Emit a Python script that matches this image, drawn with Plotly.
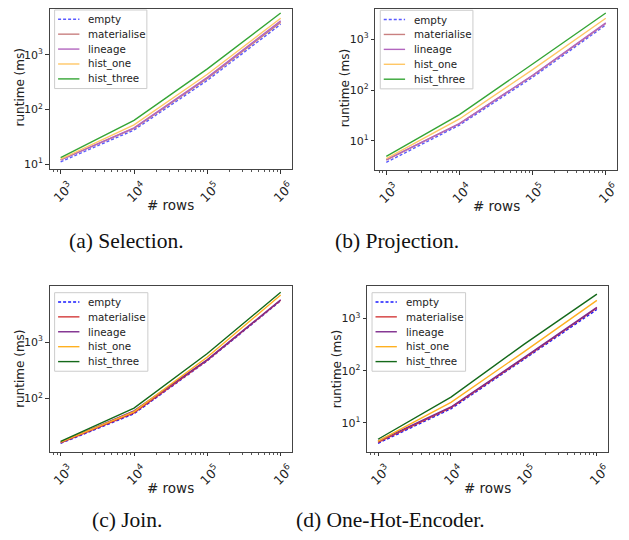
import plotly.graph_objects as go

rows = [1e3, 1e4, 1e5, 1e6]
series_names = ["empty", "materialise", "lineage", "hist_one", "hist_three"]

# (a) Selection
sel_empty = [11, 42, 340, 3600]
sel_materialise = [12, 45, 370, 3900]
sel_lineage = [12, 46, 385, 4150]
sel_hist_one = [12.3, 52, 440, 4650]
sel_hist_three = [13.2, 63, 550, 5800]

# (b) Projection
proj_empty = [3.8, 20.5, 178, 1900]
proj_materialise = [4.2, 22, 192, 2030]
proj_lineage = [4.3, 22, 195, 2080]
proj_hist_one = [4.5, 27, 252, 2570]
proj_hist_three = [5.0, 33, 325, 3250]

# (c) Join
join_empty = [16.2, 54, 470, 5400]
join_materialise = [16.5, 56, 480, 5500]
join_lineage = [17, 61, 490, 5600]
join_hist_one = [17, 59, 545, 6800]
join_hist_three = [17.6, 68, 630, 7600]

# (d) One-Hot-Encoder
ohe_empty = [4.0, 18.5, 165, 1500]
ohe_materialise = [4.2, 19.5, 172, 1600]
ohe_lineage = [4.4, 20, 178, 1650]
ohe_hist_one = [4.4, 24.5, 230, 2250]
ohe_hist_three = [4.8, 31, 320, 2950]

captions = ["(a) Selection.", "(b) Projection.", "(c) Join.", "(d) One-Hot-Encoder."]
x_tickvals = [1e3, 1e4, 1e5, 1e6]
x_ticktext = ["10<sup>3</sup>", "10<sup>4</sup>", "10<sup>5</sup>", "10<sup>6</sup>"]

colors_light = ["#5a5aff", "#c98080", "#b266bf", "#ffc766", "#35a535"]
colors_dark = ["#1a1aff", "#d43a3a", "#7d2a8c", "#ffb020", "#14691a"]

# page is 629x540; the plot div sits 8px in from the page corner (default body margin)
OFF = 8
W, H = 629 - OFF, 540 - OFF
def px_x(p):
    return (p - OFF) / W
def px_y(p):
    return min(1.0, 1 - (p - OFF) / H)

panels = [
    dict(data=[sel_empty, sel_materialise, sel_lineage, sel_hist_one, sel_hist_three],
         colors=colors_light, frame=(50, 294, 5, 169), yrange=[0.909, 3.89],
         ytick=[10, 100, 1000], legend=(55, 9, 93), cap=(127.5, 241.7), ylab=20),
    dict(data=[proj_empty, proj_materialise, proj_lineage, proj_hist_one, proj_hist_three],
         colors=colors_light, frame=(378.3, 621.7, 5, 170), yrange=[0.428, 3.65],
         ytick=[10, 100, 1000], legend=(383.3, 9.3, 93.4), cap=(400, 241.7), ylab=348),
    dict(data=[join_empty, join_materialise, join_lineage, join_hist_one, join_hist_three],
         colors=colors_dark, frame=(50, 294, 286.7, 453.3), yrange=[1.06, 3.99],
         ytick=[100, 1000], legend=(55, 293.3, 94), cap=(128, 521.7), ylab=20),
    dict(data=[ohe_empty, ohe_materialise, ohe_lineage, ohe_hist_one, ohe_hist_three],
         colors=colors_dark, frame=(370, 612.7, 286.7, 453.3), yrange=[0.44, 3.625],
         ytick=[10, 100, 1000], legend=(375, 293.3, 94.3), cap=(394, 521.7), ylab=340),
]

fig = go.Figure()
annotations = []
shapes = []
layout = {}
xtick_font = dict(family="DejaVu Sans", size=12.5, color="#222")
ytick_font = dict(family="DejaVu Sans", size=11, color="#222")
for i, p in enumerate(panels):
    k = "" if i == 0 else str(i + 1)
    for j, name in enumerate(series_names):
        fig.add_trace(go.Scatter(
            x=rows, y=p["data"][j], mode="lines", name=name, showlegend=False,
            line=dict(color=p["colors"][j], width=1.4,
                      dash="3px,2px" if name == "empty" else "solid"),
            xaxis="x" + k, yaxis="y" + k,
        ))
    l, r, t, b = p["frame"]
    y0, y1 = p["yrange"]
    # if the frame top falls above the visible plot div, trim the range to keep the scale
    t_vis = max(t, OFF)
    y1 = y1 - (t_vis - t) * (y1 - y0) / (b - t)
    layout["xaxis" + k] = dict(
        type="log", domain=[px_x(l), px_x(r)], range=[2.85, 6.15],
        anchor="y" + k, tickvals=x_tickvals, ticktext=x_ticktext, tickangle=-45,
        ticklabelshift=9, ticklabelstandoff=1,
        ticks="outside", ticklen=3.5, tickcolor="#333", showgrid=False,
        showline=True, linecolor="#444", linewidth=1, mirror=True, zeroline=False,
        tickfont=xtick_font,
        minor=dict(ticks="outside", ticklen=2, tickcolor="#555", dtick="D1", showgrid=False),
    )
    layout["yaxis" + k] = dict(
        type="log", domain=[px_y(b), px_y(t_vis)], range=[y0, y1],
        anchor="x" + k, tickvals=p["ytick"],
        ticktext=["10<sup>%d</sup>" % (len(str(int(v))) - 1) for v in p["ytick"]],
        ticks="outside", ticklen=3.5, tickcolor="#333", showgrid=False,
        showline=True, linecolor="#444", linewidth=1, mirror=True, zeroline=False,
        tickfont=ytick_font,
    )
    # legend box (drawn as decoration in pixel space)
    lx, ly, lw = p["legend"]
    shapes.append(dict(
        type="rect", xref="paper", yref="paper", layer="above",
        x0=px_x(lx), x1=px_x(lx + lw), y0=px_y(ly), y1=px_y(ly + 79),
        line=dict(color="#cccccc", width=1), fillcolor="rgba(255,255,255,0.85)",
    ))
    for j, name in enumerate(series_names):
        yy = ly + 9.3 + 15 * j
        shapes.append(dict(
            type="line", xref="paper", yref="paper", layer="above",
            x0=px_x(lx + 3.5), x1=px_x(lx + 25), y0=px_y(yy), y1=px_y(yy),
            line=dict(color=p["colors"][j], width=1.4,
                      dash="3px,2px" if name == "empty" else "solid"),
        ))
        annotations.append(dict(
            x=px_x(lx + 32), y=px_y(yy), xref="paper", yref="paper",
            text=name, showarrow=False, xanchor="left", yanchor="middle",
            font=dict(family="DejaVu Sans", size=10.3, color="#222"),
        ))
    annotations.append(dict(
        x=px_x((l + r) / 2), y=px_y(b + 36), xref="paper", yref="paper",
        text="# rows", showarrow=False, xanchor="center", yanchor="middle",
        font=dict(family="DejaVu Sans", size=13.5, color="#222"),
    ))
    annotations.append(dict(
        x=px_x(p["ylab"]), y=px_y((t + b) / 2), xref="paper", yref="paper",
        text="runtime (ms)", showarrow=False, textangle=-90,
        xanchor="center", yanchor="middle",
        font=dict(family="DejaVu Sans", size=12, color="#222"),
    ))
    cx, cy = p["cap"]
    annotations.append(dict(
        x=px_x(cx), y=px_y(cy), xref="paper", yref="paper",
        text=captions[i], showarrow=False, xanchor="center", yanchor="middle",
        font=dict(family="Liberation Serif", size=21.5, color="#111"),
    ))

fig.update_layout(
    width=W, height=H, margin=dict(l=0, r=0, t=0, b=0),
    paper_bgcolor="white", plot_bgcolor="white",
    annotations=annotations, shapes=shapes, **layout,
)
fig.write_html("out.html", config={"displayModeBar": False})
